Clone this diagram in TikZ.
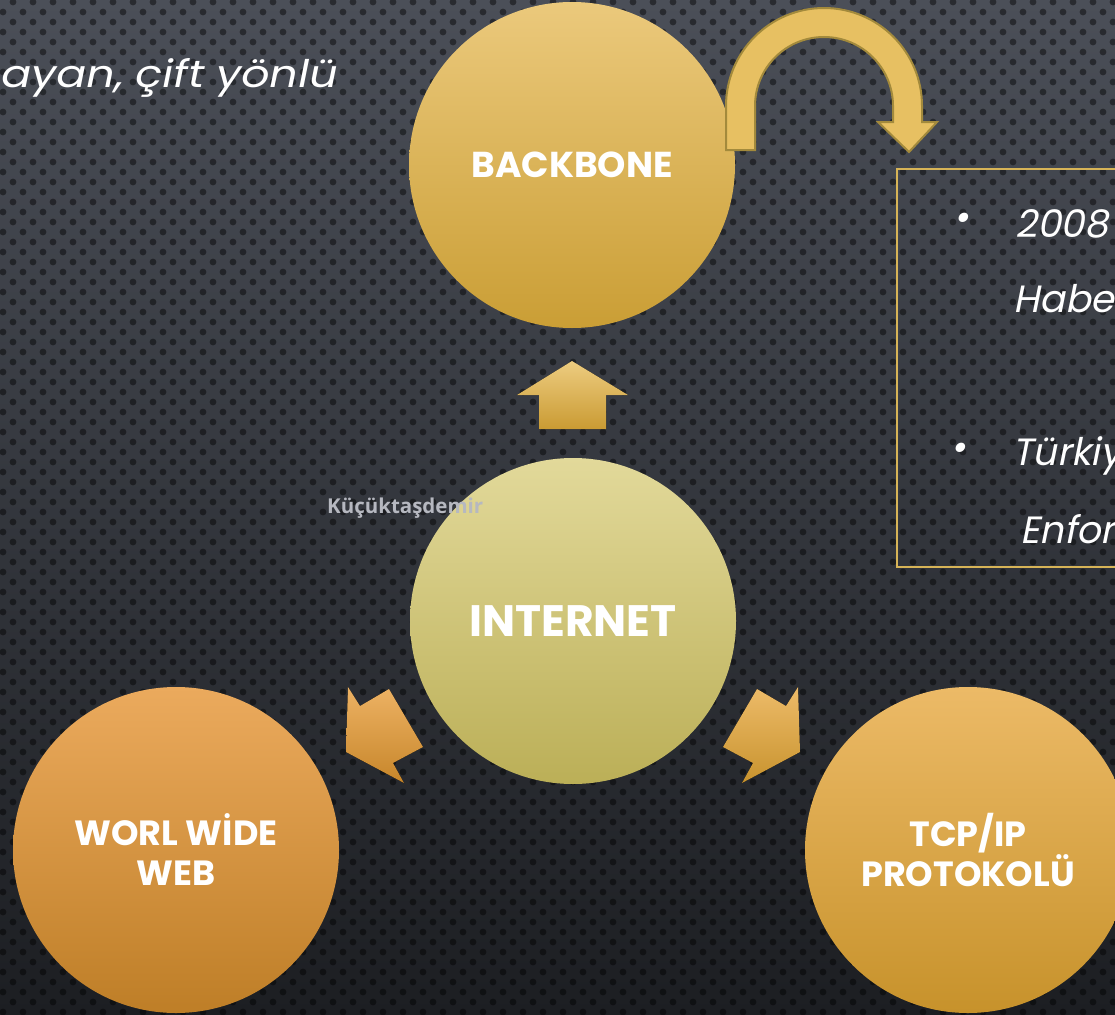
\documentclass[tikz,border=0pt]{standalone}
\usepackage{fontspec}
\setmainfont{Poppins}
\newfontfamily\labelfont{Poppins}
\newfontfamily\slantfont[FakeSlant=0.2]{Poppins}
\newfontfamily\slantwidefont[FakeSlant=0.2,FakeStretch=1.17]{Poppins}
\newfontfamily\wmfont{Open Sans}
\definecolor{bgtop}{HTML}{4B4F58}
\definecolor{bgbot}{HTML}{1C1E22}
\definecolor{bbtop}{HTML}{EBC97C}
\definecolor{bbbot}{HTML}{CA9E35}
\definecolor{intop}{HTML}{E2D99A}
\definecolor{inbot}{HTML}{BBAF57}
\definecolor{wwtop}{HTML}{EBAA5D}
\definecolor{wwbot}{HTML}{BE7E27}
\definecolor{tctop}{HTML}{ECBA67}
\definecolor{tcbot}{HTML}{C7922B}
\definecolor{uptop}{HTML}{EDCC80}
\definecolor{upbot}{HTML}{CA9B33}
\definecolor{ortop}{HTML}{EDB264}
\definecolor{orbot}{HTML}{C7862A}
\definecolor{rttop}{HTML}{EDBB69}
\definecolor{rtbot}{HTML}{C8932E}
\definecolor{arcfill}{HTML}{E7C062}
\definecolor{arcline}{HTML}{A38A3C}
\definecolor{boxline}{HTML}{D7B457}
\definecolor{wmgray}{HTML}{B6B8C0}
\begin{document}
\begin{tikzpicture}[x=1pt,y=-1pt,
  bubble/.style={circle, minimum size=326pt, inner sep=0pt, text=white, align=center},
  bodytxt/.style={text=white, inner sep=0pt, font=\slantfont\fontsize{38}{44}\selectfont},
  holes/.style={black, opacity=0.45}]
\useasboundingbox (0,0) rectangle (1115,1014);
\clip (0,0) rectangle (1115,1014);
% background
\fill[top color=bgtop, bottom color=bgbot] (0,0) rectangle (1115,1014);
\foreach \j in {0,...,102} {
  \pgfmathsetmacro{\xoff}{10*mod(\j+1,2)+3}
  \fill[holes] \foreach \i in {0,...,56} {({20*\i+\xoff},{10*\j+2}) circle (3.4)};
}
% text top left
\node[bodytxt, font=\slantwidefont\fontsize{38}{44}\selectfont, anchor=base east] (toptext) at (336,88) {ayan, çift yönlü};
% circles
\node[bubble, top color=bbtop, bottom color=bbbot, font=\labelfont\bfseries\fontsize{36}{40}\selectfont] (backbone) at (572,165) {BACKBONE};
\node[bubble, top color=intop, bottom color=inbot, font=\labelfont\bfseries\fontsize{44}{48}\selectfont] (internet) at (573,621) {INTERNET};
\node[bubble, top color=wwtop, bottom color=wwbot, font=\labelfont\bfseries\fontsize{35}{40}\selectfont] (www) at (176,850) {WORL WİDE\\WEB};
\node[bubble, top color=tctop, bottom color=tcbot, font=\labelfont\bfseries\fontsize{35}{40}\selectfont] (tcp) at (968,850) {TCP/IP\\PROTOKOLÜ};
% block arrows
\fill[top color=uptop, bottom color=upbot] (572,361) -- (628,395) -- (606,395) -- (606,429) -- (539,429) -- (539,395) -- (517,395) -- cycle;
\fill[top color=ortop, bottom color=orbot] (346,752) -- (348,687) -- (360,706) -- (389,689) -- (423,747) -- (393,763) -- (404,783) -- cycle;
\fill[top color=rttop, bottom color=rtbot] (800,752) -- (798,687) -- (786,706) -- (757,689) -- (723,747) -- (753,763) -- (742,783) -- cycle;
% curved arrow
\draw[fill=arcfill, draw=arcline, line width=2pt, line join=miter]
  (726,150) -- (726,106) arc[start angle=180, end angle=360, radius=98]
  -- (922,122) -- (937,122) -- (909,152) -- (878,122) -- (893,122) -- (893,106)
  arc[start angle=360, end angle=180, radius=69] -- (755,150) -- cycle;
% text box
\draw[draw=boxline, line width=1.5pt] (897,169) rectangle (1130,567);
\node[bodytxt] (b1) at (961,222) {•};
\node[bodytxt, anchor=base west] (t1) at (1015,237) {2008};
\node[bodytxt, anchor=base west] (t2) at (1013,312) {Habe};
\node[bodytxt] (b2) at (958,452) {•};
\node[bodytxt, anchor=base west] (t3) at (1012,465) {Türkiy};
\node[bodytxt, anchor=base west] (t4) at (1020,543) {Enfor};
% watermark
\node[anchor=west, inner sep=0pt, text=wmgray, font=\wmfont\bfseries\fontsize{20.5}{24}\selectfont] (wm) at (327,508) {Küçüktaşdemir};
\end{tikzpicture}
\end{document}
